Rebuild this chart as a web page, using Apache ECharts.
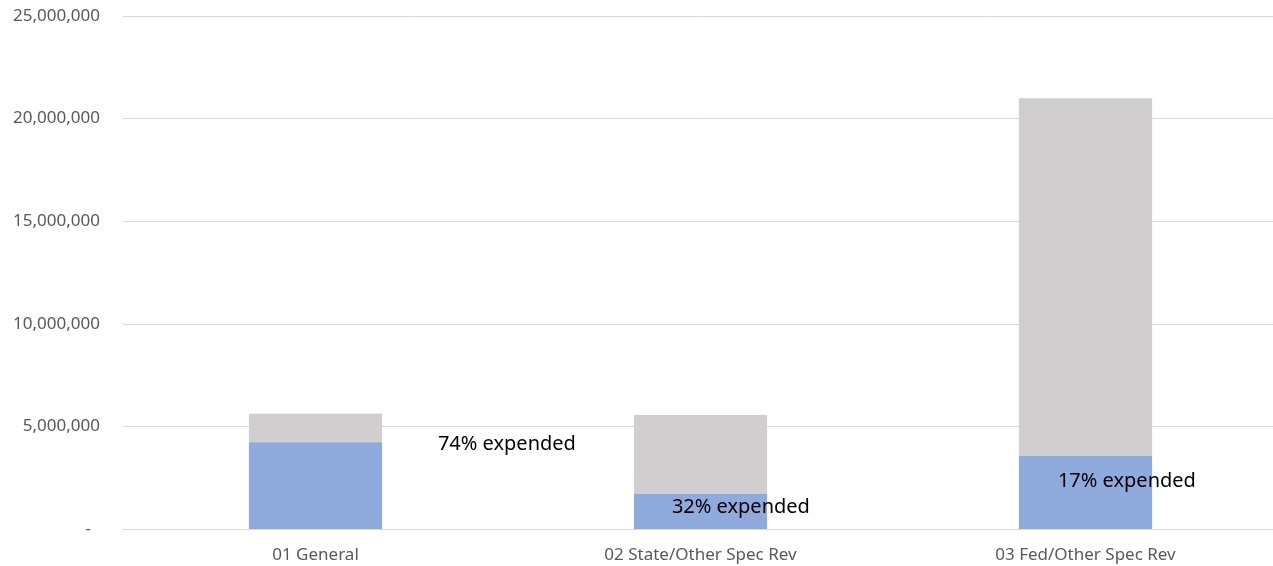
<!DOCTYPE html>
<html>
<head>
<meta charset="utf-8">
<script src="https://cdn.jsdelivr.net/npm/echarts@6/dist/echarts.min.js"></script>
<style>
html,body{margin:0;padding:0;background:#fff;overflow:hidden;width:1273px;height:566px;}
#chart{width:1278px;height:566px;}
</style>
</head>
<body>
<div id="chart"></div>
<script>
const categories = ['01 General', '02 State/Other Spec Rev', '03 Fed/Other Spec Rev'];
const expended = [4230000, 1720000, 3570000];
const remaining = [1390000, 3840000, 17420000];
const pctExpended = [74, 32, 17];
const yTicks = [0, 5000000, 10000000, 15000000, 20000000, 25000000];

const labelPos = [[189, 2], [38, 14], [39, 26]];

const chart = echarts.init(document.getElementById('chart'), null, {renderer: 'canvas'});
const font = '"Noto Sans", sans-serif';

chart.setOption({
  animation: false,
  grid: {left: 123, right: 0, top: 16, bottom: 37, containLabel: false},
  xAxis: {
    type: 'category',
    data: categories,
    axisLine: {show: true, lineStyle: {color: '#D9D9D9', width: 1}},
    axisTick: {show: false},
    axisLabel: {color: '#595959', fontSize: 17, fontFamily: font, margin: 18}
  },
  yAxis: {
    type: 'value',
    min: yTicks[0],
    max: yTicks[yTicks.length - 1],
    interval: yTicks[1] - yTicks[0],
    axisLine: {show: false},
    axisTick: {show: false},
    splitLine: {lineStyle: {color: '#D9D9D9', width: 1}},
    axisLabel: {
      color: '#595959', fontSize: 17, fontFamily: font, margin: 23,
      formatter: function (v) { return v === 0 ? '{z|-}' : v.toLocaleString('en-US'); },
      rich: {z: {color: '#595959', fontSize: 17, fontFamily: font, padding: [0, 9, 0, 0]}}
    }
  },
  series: [
    {
      name: 'Expended',
      type: 'bar',
      stack: 'total',
      barWidth: '34.6%',
      itemStyle: {color: '#8FAADC'},
      data: expended.map(function (v, i) {
        return {
          value: v,
          label: {
            show: true,
            position: labelPos[i],
            align: 'left',
            verticalAlign: 'middle',
            formatter: pctExpended[i] + '% expended',
            color: '#000000',
            fontSize: 20,
            fontFamily: font
          }
        };
      }),
      z: 3
    },
    {
      name: 'Remaining',
      type: 'bar',
      stack: 'total',
      barWidth: '34.6%',
      itemStyle: {color: '#D0CECE'},
      data: remaining,
      z: 2
    }
  ]
});
</script>
</body>
</html>
